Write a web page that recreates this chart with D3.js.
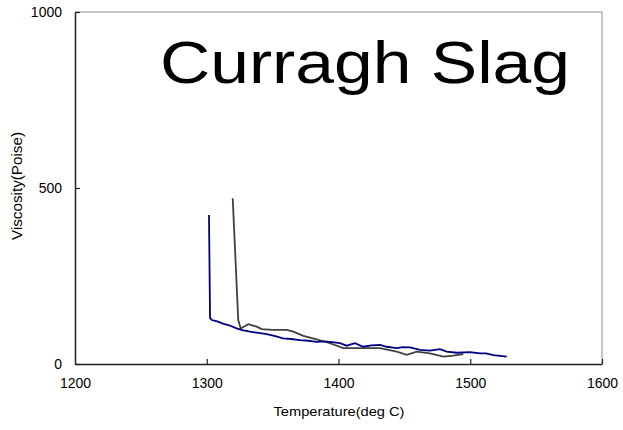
<!DOCTYPE html>
<html>
<head>
<meta charset="utf-8">
<script src="https://cdn.jsdelivr.net/npm/d3@7"></script>
<style>
  body { margin: 0; background: #fff; }
  text { font-family: "Liberation Sans", Arial, sans-serif; fill: #000; }
</style>
</head>
<body>
<div id="chart"></div>
<script>
// temperature (deg C) / viscosity (Poise)
var blueT = [1301.7, 1302.5, 1303.8, 1308, 1312.3, 1317, 1322.7, 1327, 1332.8, 1338, 1345.5, 1352, 1357.9, 1364, 1370.8, 1377, 1383.5, 1389, 1393.5, 1401.1, 1406.2, 1412.5, 1418.8, 1425, 1431.5, 1436.6, 1444.2, 1449, 1454.3, 1461.9, 1469.4, 1477, 1482.1, 1489.7, 1499.8, 1507.4, 1512, 1517.5, 1527.7];
var blueV = [423, 130, 125, 121, 115, 110, 101, 96, 92, 89, 85, 79, 73, 71, 68, 66, 63, 64, 63, 59, 52, 59, 49, 53, 54, 49, 45, 48, 47, 40, 38, 42, 35, 32, 34, 30, 30, 25, 21];
var grayT = [1319.7, 1323.9, 1325.8, 1328, 1331.5, 1337.9, 1341.7, 1350, 1360.7, 1365.7, 1373.3, 1383.5, 1393.5, 1403.6, 1418.8, 1431.5, 1444.2, 1451.8, 1459.4, 1469.4, 1479.5, 1487.1, 1494.7];
var grayV = [471, 125, 101, 106, 113, 106, 99, 97, 97, 92, 80, 70, 59, 45, 45, 45, 35, 26, 35, 30, 21, 24, 28];

var xTicks = [1200, 1300, 1400, 1500, 1600];
var yTicks = [0, 500, 1000];

var width = 623,
    height = 430,
    margin = {top: 12, right: 21, bottom: 66, left: 75};

var svg = d3.select("#chart").append("svg")
    .attr("width", width)
    .attr("height", height);

svg.append("rect").attr("width", width).attr("height", height).attr("fill", "#fff");

var x = d3.scaleLinear().domain([1200, 1600]).range([margin.left, width - margin.right]);
var y = d3.scaleLinear().domain([0, 1000]).range([height - margin.bottom, margin.top]);

// gray frame on top/right
svg.append("path")
    .attr("d", "M" + x(1200) + "," + y(1000) + "H" + x(1600) + "V" + y(0))
    .attr("fill", "none")
    .attr("stroke", "#b4b4b4")
    .attr("stroke-width", 1.5);

var xAxis = svg.append("g")
    .attr("transform", "translate(0," + y(0) + ")")
    .call(d3.axisBottom(x).tickValues(xTicks).tickSizeInner(-5).tickSizeOuter(0).tickPadding(14).tickFormat(d3.format("d")));

var yAxis = svg.append("g")
    .attr("transform", "translate(" + x(1200) + ",0)")
    .call(d3.axisLeft(y).tickValues(yTicks).tickSizeInner(-5).tickSizeOuter(0).tickPadding(13).tickFormat(d3.format("d")));

[xAxis, yAxis].forEach(function(g) {
  g.select(".domain").attr("stroke", "#222").attr("stroke-width", 1.5);
  g.selectAll(".tick line").attr("stroke", "#222").attr("stroke-width", 1.2);
  g.selectAll(".tick text").attr("font-size", 14).attr("fill", "#000")
      .style("font-family", "'Liberation Sans', Arial, sans-serif");
});
xAxis.selectAll(".tick").filter(function(d) { return d === 1200; }).select("line").remove();

var line = d3.line()
    .x(function(d) { return x(d[0]); })
    .y(function(d) { return y(d[1]); });

svg.append("path")
    .datum(d3.zip(grayT, grayV))
    .attr("d", line)
    .attr("fill", "none")
    .attr("stroke", "#404040")
    .attr("stroke-width", 1.8);

svg.append("path")
    .datum(d3.zip(blueT, blueV))
    .attr("d", line)
    .attr("fill", "none")
    .attr("stroke", "#000080")
    .attr("stroke-width", 1.8);

svg.append("text")
    .attr("x", 365)
    .attr("y", 83)
    .attr("text-anchor", "middle")
    .attr("font-size", 60)
    .attr("textLength", 410)
    .attr("lengthAdjust", "spacingAndGlyphs")
    .text("Curragh Slag");

svg.append("text")
    .attr("x", 339)
    .attr("y", 416)
    .attr("text-anchor", "middle")
    .attr("font-size", 13)
    .attr("textLength", 131)
    .attr("lengthAdjust", "spacingAndGlyphs")
    .text("Temperature(deg C)");

svg.append("text")
    .attr("transform", "translate(22,186) rotate(-90)")
    .attr("text-anchor", "middle")
    .attr("font-size", 14)
    .attr("textLength", 108)
    .attr("lengthAdjust", "spacingAndGlyphs")
    .text("Viscosity(Poise)");
</script>
</body>
</html>
